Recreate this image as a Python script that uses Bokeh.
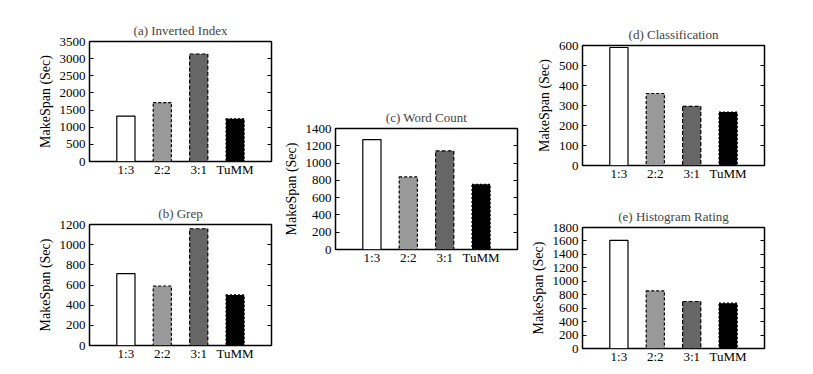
from bokeh.plotting import figure
from bokeh.models import FactorRange, Range1d, FixedTicker, LinearAxis
from bokeh.layouts import row, column
from bokeh.embed import file_html
from bokeh.resources import INLINE

# ---- data ----
categories = ["1:3", "2:2", "3:1", "TuMM"]

inverted_index = [1325, 1720, 3135, 1245]
grep = [712, 590, 1158, 502]
word_count = [1272, 840, 1141, 754]
classification = [590, 360, 296, 267]
histogram_rating = [1607, 858, 699, 675]

ticks_a = [0, 500, 1000, 1500, 2000, 2500, 3000, 3500]
ticks_b = [0, 200, 400, 600, 800, 1000, 1200]
ticks_c = [0, 200, 400, 600, 800, 1000, 1200, 1400]
ticks_d = [0, 100, 200, 300, 400, 500, 600]
ticks_e = [0, 200, 400, 600, 800, 1000, 1200, 1400, 1600, 1800]

bar_fill = ["#ffffff", "#999999", "#666666", "#000000"]
bar_dash = ["solid", "3 2", "4 2", "2 2"]

FONT = "Liberation Serif"
FS = "13px"


def panel(title, values, ticks, width, height, left, right, top, bottom):
    p = figure(
        title=title,
        x_range=FactorRange(factors=categories, range_padding=0.25),
        y_range=Range1d(ticks[0], ticks[-1]),
        width=width, height=height,
        min_border_left=left, min_border_right=right,
        min_border_top=top, min_border_bottom=bottom,
        output_backend="svg", toolbar_location=None,
    )
    for c, v, f, d in zip(categories, values, bar_fill, bar_dash):
        p.vbar(x=[c], top=[v], bottom=0, width=0.5, fill_color=f,
               line_color="black", line_width=1.2, line_dash=d)
    p.xgrid.visible = False
    p.ygrid.visible = False
    p.outline_line_color = "black"
    p.outline_line_width = 1.5
    p.background_fill_color = "white"
    p.border_fill_color = "white"

    p.title.text_font = FONT
    p.title.text_font_size = FS
    p.title.text_font_style = "normal"
    p.title.align = "center"
    p.title.standoff = 7

    ya = p.yaxis[0]
    ya.ticker = FixedTicker(ticks=ticks)
    ya.axis_line_color = None
    ya.major_tick_in = 4
    ya.major_tick_out = 0
    ya.minor_tick_line_color = None
    ya.major_tick_line_color = "black"
    ya.major_label_text_font = FONT
    ya.major_label_text_font_size = FS
    ya.major_label_text_color = "black"
    ya.major_label_standoff = 4
    ya.axis_label = "MakeSpan (Sec)"
    ya.axis_label_text_font = FONT
    ya.axis_label_text_font_size = "14px"
    ya.axis_label_text_font_style = "normal"
    ya.axis_label_text_color = "black"
    ya.axis_label_standoff = 4

    ra = LinearAxis(ticker=FixedTicker(ticks=ticks))
    ra.axis_line_color = None
    ra.major_tick_in = 4
    ra.major_tick_out = 0
    ra.minor_tick_line_color = None
    ra.major_label_text_font_size = "0px"
    ra.major_label_text_color = None
    ra.major_label_standoff = 0
    p.add_layout(ra, "right")

    xa = p.xaxis[0]
    xa.axis_line_color = None
    xa.major_tick_line_color = None
    xa.major_tick_in = 0
    xa.major_tick_out = 0
    xa.major_label_text_font = FONT
    xa.major_label_text_font_size = FS
    xa.major_label_text_color = "black"
    xa.major_label_standoff = 0
    return p


pa = panel("(a) Inverted Index", inverted_index, ticks_a, 275, 183, 89, 4, 41, 22)
pb = panel("(b) Grep", grep, ticks_b, 275, 182, 89, 4, 41, 20)
pc = panel("(c) Word Count", word_count, ticks_c, 246, 269, 60, 4, 128, 20)
pd = panel("(d) Classification", classification, ticks_d, 247, 185, 56, 4, 45, 20)
pe = panel("(e) Histogram Rating", histogram_rating, ticks_e, 247, 181, 61, 4, 42, 18)

layout = row(column(pa, pb), pc, column(pd, pe))

open("out.html", "w").write(file_html(layout, INLINE))
